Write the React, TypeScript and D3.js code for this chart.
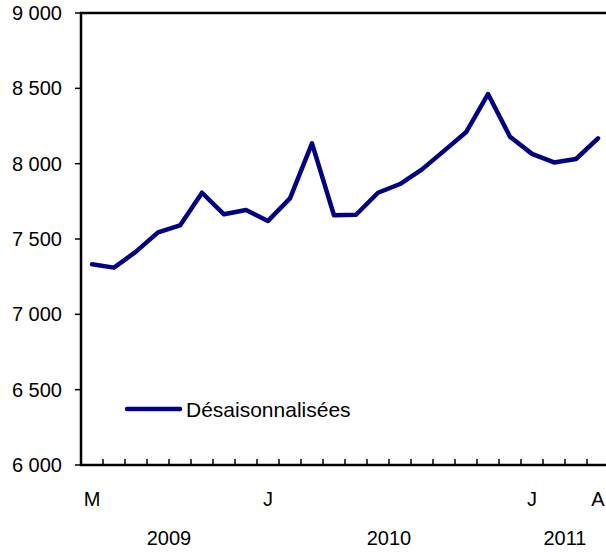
import React from "react";
import * as d3 from "d3";

// Mai 2009 - avril 2011
const months = [
  "2009-05", "2009-06", "2009-07", "2009-08", "2009-09", "2009-10", "2009-11", "2009-12",
  "2010-01", "2010-02", "2010-03", "2010-04", "2010-05", "2010-06", "2010-07", "2010-08",
  "2010-09", "2010-10", "2010-11", "2010-12",
  "2011-01", "2011-02", "2011-03", "2011-04",
];
const monthLabels = ["M", "", "", "", "", "", "", "", "J", "", "", "", "", "", "", "", "", "", "", "", "J", "", "", "A"];
const values = [
  7332, 7310, 7416, 7544, 7590, 7807, 7664, 7693, 7620, 7770, 8135, 7657,
  7661, 7807, 7865, 7962, 8085, 8208, 8462, 8179, 8065, 8008, 8031, 8168,
];
const years = ["2009", "2010", "2011"];
const yTicks = [6000, 6500, 7000, 7500, 8000, 8500, 9000];
const seriesName = "Désaisonnalisées";

const fmt = (v: number) => d3.format(",")(v).replace(",", " ");

export default function App() {
  const width = 606;
  const height = 552;
  const left = 81;
  const top = 13;
  const bottom = 465;
  const bandW = 22;

  const x = d3
    .scaleBand()
    .domain(months)
    .range([left, left + bandW * months.length]);

  const y = d3.scaleLinear().domain([6000, 9000]).range([bottom, top]);

  const line = d3
    .line<number>()
    .x((d, i) => x(months[i])! + x.bandwidth() / 2)
    .y((d) => y(d));

  const right = left + bandW * months.length;
  const font = "'Liberation Sans', Arial, sans-serif";

  return (
    <svg
      width={width}
      height={height}
      style={{ position: "absolute", left: 0, top: 0, background: "#fff" }}
      fontFamily={font}
    >
      {/* frame */}
      <rect x={left} y={top} width={right - left} height={bottom - top} fill="none" stroke="#000" strokeWidth={2.5} />

      {/* y ticks */}
      {yTicks.map((t) => (
        <g key={t}>
          <line x1={left - 6} x2={left} y1={y(t)} y2={y(t)} stroke="#000" strokeWidth={1.5} />
          <text x={62} y={y(t)} dy="0.35em" textAnchor="end" fontSize={20} fill="#000">
            {fmt(t)}
          </text>
        </g>
      ))}

      {/* x ticks between months */}
      {months.slice(1).map((m) => (
        <line key={m} x1={x(m)} x2={x(m)} y1={bottom} y2={bottom - 6} stroke="#000" strokeWidth={1.5} />
      ))}

      {/* month letters */}
      {months.map((m, i) =>
        monthLabels[i] ? (
          <text key={m} x={x(m)! + x.bandwidth() / 2} y={506} textAnchor="middle" fontSize={20} fill="#000">
            {monthLabels[i]}
          </text>
        ) : null
      )}

      {/* years */}
      {years.map((yr) => {
        const ms = months.filter((m) => m.startsWith(yr));
        const cx = (x(ms[0])! + x(ms[ms.length - 1])! + x.bandwidth()) / 2;
        return (
          <text key={yr} x={cx} y={545} textAnchor="middle" fontSize={20} fill="#000">
            {yr}
          </text>
        );
      })}

      {/* series */}
      <path d={line(values)!} fill="none" stroke="#000080" strokeWidth={4.5} strokeLinejoin="round" strokeLinecap="round" />

      {/* legend */}
      <line x1={127} x2={180} y1={409} y2={409} stroke="#000080" strokeWidth={4.5} strokeLinecap="round" />
      <text x={186} y={417} fontSize={21} fill="#000">
        {seriesName}
      </text>
    </svg>
  );
}
